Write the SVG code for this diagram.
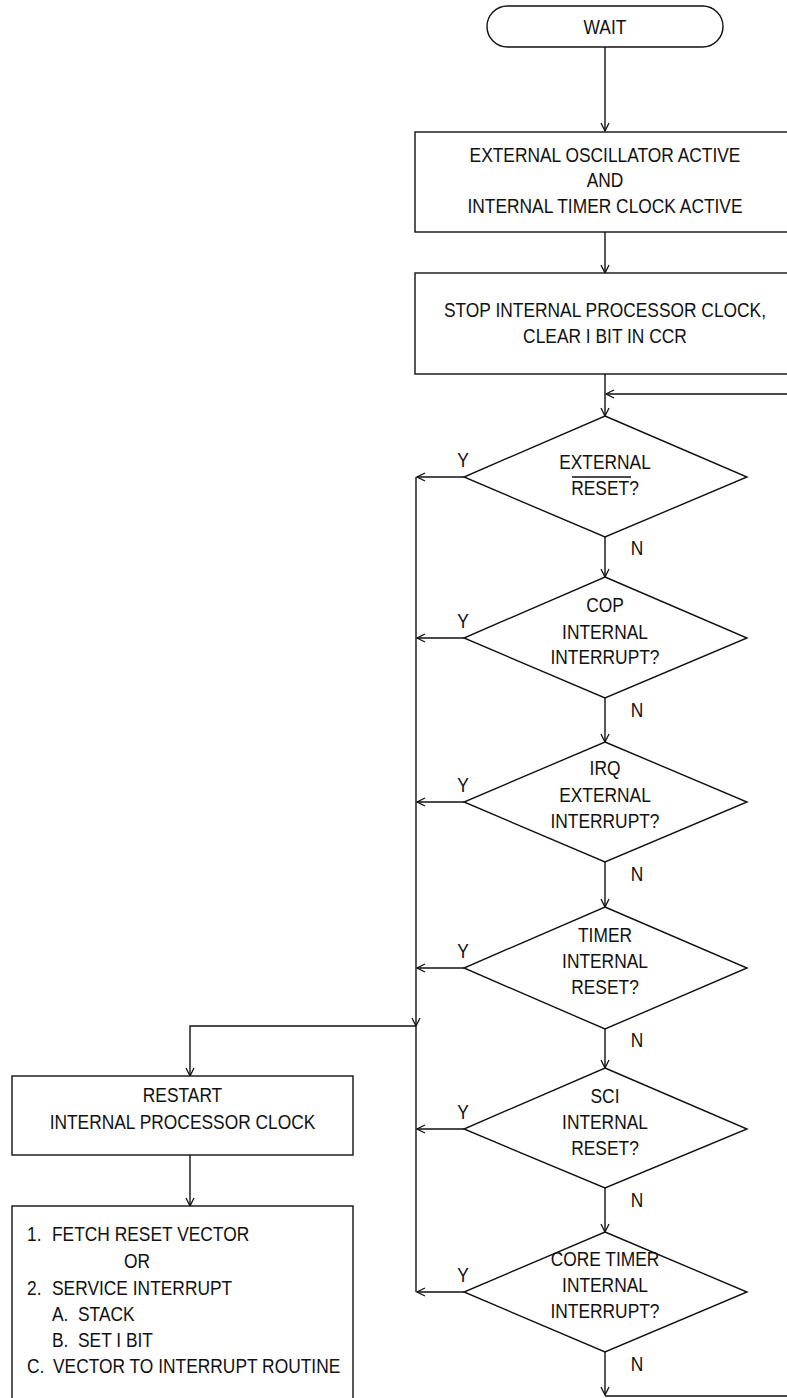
<svg xmlns="http://www.w3.org/2000/svg" width="787" height="1398" viewBox="0 0 787 1398">
<defs>
<style>
.s{fill:#fff;stroke:#111;stroke-width:1.4}
.c{fill:none;stroke:#111;stroke-width:1.4}
.t{font-family:"Liberation Sans",Arial,sans-serif;font-size:19.3px;fill:#111;text-anchor:middle}
.l{font-family:"Liberation Sans",Arial,sans-serif;font-size:19.3px;fill:#111;text-anchor:start}
</style>
<marker id="ah" viewBox="0 0 10 10" refX="9" refY="5" markerWidth="10" markerHeight="10" markerUnits="userSpaceOnUse" orient="auto">
<path d="M1,1 L9,5 L1,9" fill="none" stroke="#111" stroke-width="1.3"/>
</marker>
</defs>
<rect width="787" height="1398" fill="#fff"/>

<g id="connectors">
<path class="c" d="M605,47 V131" marker-end="url(#ah)"/>
<path class="c" d="M605,232 V273" marker-end="url(#ah)"/>
<path class="c" d="M605,374 V416" marker-end="url(#ah)"/>
<path class="c" d="M790,394 H606" marker-end="url(#ah)"/>
<path class="c" d="M605,537 V577" marker-end="url(#ah)"/>
<path class="c" d="M605,698 V742" marker-end="url(#ah)"/>
<path class="c" d="M605,862 V907" marker-end="url(#ah)"/>
<path class="c" d="M605,1029 V1068" marker-end="url(#ah)"/>
<path class="c" d="M605,1188 V1232" marker-end="url(#ah)"/>
<path class="c" d="M605,1352 V1395" marker-end="url(#ah)"/>
<path class="c" d="M605,1396 H790"/>
<path class="c" d="M464,477 H417" marker-end="url(#ah)"/>
<path class="c" d="M464,638 H417" marker-end="url(#ah)"/>
<path class="c" d="M464,802 H417" marker-end="url(#ah)"/>
<path class="c" d="M464,968 H417" marker-end="url(#ah)"/>
<path class="c" d="M464,1129 H417" marker-end="url(#ah)"/>
<path class="c" d="M464,1292 H417" marker-end="url(#ah)"/>
<path class="c" d="M416,477 V1026" marker-end="url(#ah)"/>
<path class="c" d="M416,1026 V1292"/>
<path class="c" d="M416,1026 H190 V1076" marker-end="url(#ah)"/>
<path class="c" d="M190,1155 V1206" marker-end="url(#ah)"/>
</g>

<g id="wait">
<rect class="s" x="487" y="6" width="236" height="41" rx="20.5"/>
<text class="t" transform="translate(605,34) scale(0.9,1)">WAIT</text>
</g>

<g id="oscillator">
<rect class="s" x="415" y="132" width="381" height="100"/>
<text class="t" transform="translate(605,162) scale(0.9,1)">EXTERNAL OSCILLATOR ACTIVE</text>
<text class="t" transform="translate(605,187) scale(0.9,1)">AND</text>
<text class="t" transform="translate(605,213) scale(0.9,1)">INTERNAL TIMER CLOCK ACTIVE</text>
</g>

<g id="stop">
<rect class="s" x="415" y="273" width="381" height="101"/>
<text class="t" transform="translate(605,317) scale(0.9,1)">STOP INTERNAL PROCESSOR CLOCK,</text>
<text class="t" transform="translate(605,343) scale(0.9,1)">CLEAR I BIT IN CCR</text>
</g>

<g id="d1">
<path class="s" d="M605,416 L747,477 L605,537 L464,477 Z"/>
<text class="t" transform="translate(605,469) scale(0.9,1)">EXTERNAL</text>
<text class="t" transform="translate(605,495) scale(0.9,1)">RESET?</text>
<path class="c" d="M572,477 H631"/>
<text class="t" transform="translate(463,467) scale(0.9,1)">Y</text>
<text class="t" transform="translate(637,555) scale(0.9,1)">N</text>
</g>

<g id="d2">
<path class="s" d="M605,577 L747,638 L605,698 L464,638 Z"/>
<text class="t" transform="translate(605,612) scale(0.9,1)">COP</text>
<text class="t" transform="translate(605,639) scale(0.9,1)">INTERNAL</text>
<text class="t" transform="translate(605,664) scale(0.9,1)">INTERRUPT?</text>
<text class="t" transform="translate(463,628) scale(0.9,1)">Y</text>
<text class="t" transform="translate(637,717) scale(0.9,1)">N</text>
</g>

<g id="d3">
<path class="s" d="M605,742 L747,802 L605,862 L464,802 Z"/>
<text class="t" transform="translate(605,775) scale(0.9,1)">IRQ</text>
<text class="t" transform="translate(605,802) scale(0.9,1)">EXTERNAL</text>
<text class="t" transform="translate(605,828) scale(0.9,1)">INTERRUPT?</text>
<text class="t" transform="translate(463,792) scale(0.9,1)">Y</text>
<text class="t" transform="translate(637,881) scale(0.9,1)">N</text>
</g>

<g id="d4">
<path class="s" d="M605,907 L747,968 L605,1029 L464,968 Z"/>
<text class="t" transform="translate(605,942) scale(0.9,1)">TIMER</text>
<text class="t" transform="translate(605,968) scale(0.9,1)">INTERNAL</text>
<text class="t" transform="translate(605,994) scale(0.9,1)">RESET?</text>
<text class="t" transform="translate(463,958) scale(0.9,1)">Y</text>
<text class="t" transform="translate(637,1047) scale(0.9,1)">N</text>
</g>

<g id="d5">
<path class="s" d="M605,1068 L747,1129 L605,1188 L464,1129 Z"/>
<text class="t" transform="translate(605,1103) scale(0.9,1)">SCI</text>
<text class="t" transform="translate(605,1129) scale(0.9,1)">INTERNAL</text>
<text class="t" transform="translate(605,1155) scale(0.9,1)">RESET?</text>
<text class="t" transform="translate(463,1119) scale(0.9,1)">Y</text>
<text class="t" transform="translate(637,1207) scale(0.9,1)">N</text>
</g>

<g id="d6">
<path class="s" d="M605,1232 L747,1292 L605,1352 L464,1292 Z"/>
<text class="t" transform="translate(605,1266) scale(0.9,1)">CORE TIMER</text>
<text class="t" transform="translate(605,1292) scale(0.9,1)">INTERNAL</text>
<text class="t" transform="translate(605,1318) scale(0.9,1)">INTERRUPT?</text>
<text class="t" transform="translate(463,1282) scale(0.9,1)">Y</text>
<text class="t" transform="translate(637,1371) scale(0.9,1)">N</text>
</g>

<g id="restart">
<rect class="s" x="12" y="1076" width="341" height="79"/>
<text class="t" transform="translate(182.5,1102) scale(0.9,1)">RESTART</text>
<text class="t" transform="translate(182.5,1129) scale(0.9,1)">INTERNAL PROCESSOR CLOCK</text>
</g>

<g id="service">
<rect class="s" x="12" y="1206" width="341" height="200"/>
<text class="l" transform="translate(27,1241) scale(0.9,1)"><tspan x="0">1. </tspan><tspan x="27.8">FETCH RESET VECTOR</tspan></text>
<text class="l" transform="translate(124,1268) scale(0.9,1)">OR</text>
<text class="l" transform="translate(27,1295) scale(0.9,1)"><tspan x="0">2. </tspan><tspan x="27.8">SERVICE INTERRUPT</tspan></text>
<text class="l" transform="translate(52,1321) scale(0.9,1)"><tspan x="0">A. </tspan><tspan x="28.9">STACK</tspan></text>
<text class="l" transform="translate(52,1347) scale(0.9,1)"><tspan x="0">B. </tspan><tspan x="28.9">SET I BIT</tspan></text>
<text class="l" transform="translate(27,1373) scale(0.9,1)"><tspan x="0">C. </tspan><tspan x="28.9">VECTOR TO INTERRUPT ROUTINE</tspan></text>
</g>
</svg>
